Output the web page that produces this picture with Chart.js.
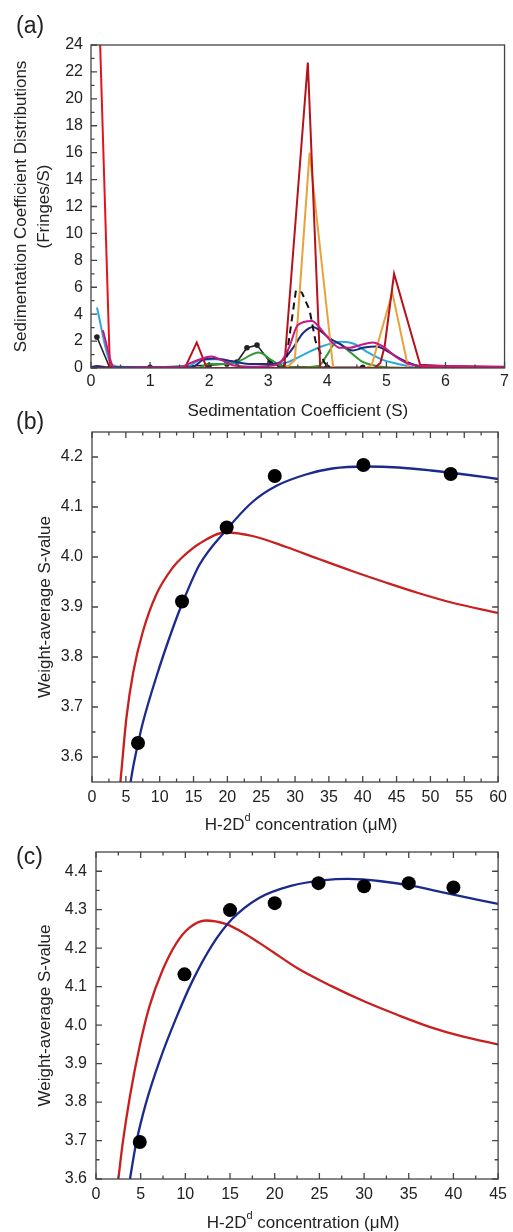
<!DOCTYPE html>
<html>
<head>
<meta charset="utf-8">
<script src="https://cdn.jsdelivr.net/npm/chart.js@4.4.1/dist/chart.umd.min.js"></script>
<style>
  html, body { margin: 0; padding: 0; background: #fff; }
  #wrap { position: relative; width: 513px; height: 1232px; overflow: hidden; }
  canvas { position: absolute; left: 0; }
</style>
</head>
<body>
<div id="wrap">
  <canvas id="chartA" width="513" height="425" style="top:0"></canvas>
  <canvas id="chartB" width="513" height="440" style="top:400px"></canvas>
  <canvas id="chartC" width="513" height="412" style="top:820px"></canvas>
</div>
<script>
Chart.defaults.font.family = "'Liberation Sans', Arial, sans-serif";
Chart.defaults.color = '#222';

// ---- panel (a): sedimentation coefficient distributions ----
const sTicksA = [0, 1, 2, 3, 4, 5, 6, 7];
const fTicksA = [0, 2, 4, 6, 8, 10, 12, 14, 16, 18, 20, 22, 24];

const redS = [0.1, 0.32, 1.0, 3.0, 7.0];
const redF = [32, 0, 0, 0, 0];

const crimsonS = [0, 1.5, 1.6, 1.79, 1.96, 3.27, 3.67, 3.88, 4.8, 4.9, 4.97, 5.13, 5.57, 6.0, 7.0];
const crimsonF = [0, 0, 0.1, 1.9, 0, 0, 22.7, 0, 0, 0.4, 1.6, 7.0, 0.25, 0.15, 0.1];

const orangeS = [0, 3.3, 3.45, 3.7, 4.1, 4.65, 4.75, 5.1, 5.37, 5.6, 7.0];
const orangeF = [0, 0, 0.6, 16.0, 0, 0, 0.2, 5.6, 0, 0, 0];

const dashS = [0.4, 3.25, 3.3, 3.38, 3.47, 3.57, 3.7, 3.8, 3.95, 4.05, 4.7];
const dashF = [0, 0, 0.5, 3.0, 5.8, 5.6, 4.3, 2.0, 0.4, 0, 0];

const blackS = [0.1, 0.32, 1.0, 2.0, 2.3, 2.47, 2.64, 2.81, 3.03, 3.2, 4.0, 4.6];
const blackF = [2.3, 0, 0.05, 0.2, 0.3, 0.45, 1.5, 1.7, 0.45, 0.1, 0.05, 0.05];

const navyS = [0, 0.1, 0.3, 1.7, 1.9, 2.1, 2.4, 2.7, 3.1, 3.25, 3.42, 3.59, 3.76, 3.87, 4.04, 4.21, 4.43, 4.6, 4.83, 5.0, 5.23, 5.4, 5.6, 6.0];
const navyF = [0.05, 0.15, 0.05, 0.05, 0.6, 0.7, 0.5, 0.3, 0.3, 0.6, 1.5, 2.6, 3.05, 2.8, 2.2, 1.8, 1.3, 1.5, 1.6, 1.3, 0.7, 0.35, 0.1, 0.05];

const cyanS = [0.1, 0.34, 0.5, 1.6, 1.85, 2.1, 2.4, 2.7, 3.0, 3.3, 3.6, 3.9, 4.25, 4.45, 4.67, 4.94, 5.2, 5.4, 5.6];
const cyanF = [4.5, 0.3, 0.1, 0.05, 0.6, 0.65, 0.45, 0.3, 0.3, 0.4, 1.0, 1.6, 1.95, 1.8, 1.2, 0.6, 0.3, 0.1, 0];

const greenS = [0, 1.8, 2.0, 2.3, 2.5, 2.84, 3.05, 3.2, 3.5, 3.85, 4.0, 4.15, 4.38, 4.6, 4.77, 5.0, 5.5];
const greenF = [0, 0, 0.3, 0.3, 0.5, 1.15, 0.6, 0.2, 0.05, 0.15, 1.0, 1.9, 1.2, 0.45, 0.2, 0.05, 0];

const magentaS = [0.2, 0.4, 1.0, 1.5, 1.7, 2.04, 2.2, 2.4, 2.7, 3.0, 3.2, 3.35, 3.5, 3.74, 3.87, 4.04, 4.21, 4.38, 4.55, 4.77, 4.94, 5.17, 5.35, 5.6, 6.0, 6.5, 7.0];
const magentaF = [2.8, 0, 0.05, 0.05, 0.4, 0.85, 0.6, 0.2, 0.1, 0.15, 0.4, 1.5, 3.2, 3.5, 3.0, 2.1, 1.5, 1.5, 1.7, 1.9, 1.6, 0.8, 0.35, 0.15, 0.15, 0.1, 0.05];

// ---- panel (b) ----
const concTicksB = [0, 5, 10, 15, 20, 25, 30, 35, 40, 45, 50, 55, 60];
const sTicksB = [3.6, 3.7, 3.8, 3.9, 4.0, 4.1, 4.2];
const dataConcB = [6.8, 13.3, 19.9, 27.0, 40.1, 53.0];
const dataSB = [3.628, 3.911, 4.059, 4.162, 4.184, 4.166];
const blueConcB = [5.7, 6.08, 6.8, 7.5, 9.5, 12, 13.3, 15.9, 19.9, 23.7, 27.2, 31.6, 35.5, 40.4, 45.3, 50.1, 55.1, 60];
const blueSB = [3.55, 3.58, 3.627, 3.668, 3.76, 3.86, 3.906, 3.985, 4.055, 4.11, 4.142, 4.165, 4.177, 4.181, 4.179, 4.173, 4.165, 4.156];
const redConcB = [4.2, 4.4, 5.1, 6.1, 7.5, 9.5, 12, 13.3, 15.9, 19.8, 23.7, 28.7, 33.5, 38.4, 43.4, 48.2, 53.1, 60];
const redSB = [3.55, 3.58, 3.68, 3.77, 3.85, 3.925, 3.98, 3.999, 4.027, 4.049, 4.042, 4.02, 3.996, 3.972, 3.949, 3.928, 3.909, 3.888];

// ---- panel (c) ----
const concTicksC = [0, 5, 10, 15, 20, 25, 30, 35, 40, 45];
const sTicksC = [3.6, 3.7, 3.8, 3.9, 4.0, 4.1, 4.2, 4.3, 4.4];
const dataConcC = [4.9, 9.9, 15.0, 20.0, 24.9, 30.0, 35.0, 40.0];
const dataSC = [3.696, 4.132, 4.299, 4.317, 4.369, 4.361, 4.369, 4.358];
const blueConcC = [3.8, 4.5, 5.6, 7.1, 9.0, 10.8, 13.0, 15.2, 18.2, 21.8, 25.6, 28.2, 31.9, 35.6, 39.2, 42.9, 45];
const blueSC = [3.6, 3.694, 3.798, 3.906, 4.02, 4.115, 4.208, 4.275, 4.33, 4.362, 4.377, 4.38, 4.374, 4.361, 4.343, 4.325, 4.315];
const redConcC = [2.5, 3.0, 3.8, 4.9, 6.0, 7.4, 9.0, 10.4, 12.3, 14.5, 16.7, 19.3, 22.6, 26.3, 30, 33.7, 37.4, 41.1, 45];
const redSC = [3.6, 3.695, 3.815, 3.947, 4.05, 4.14, 4.213, 4.252, 4.272, 4.263, 4.237, 4.198, 4.147, 4.102, 4.062, 4.027, 3.995, 3.97, 3.95];

const xy = (xs, ys) => xs.map((x, i) => ({ x, y: ys[i] }));

// inward tick marks + box frame round the plot area
const frameTicks = {
  id: 'frameTicks',
  afterDatasetsDraw(chart, args, opts) {
    const { ctx, chartArea: a } = chart;
    const { x, y } = chart.scales;
    ctx.save();
    ctx.strokeStyle = '#444';
    ctx.lineWidth = 1.3;
    ctx.strokeRect(a.left, a.top, a.right - a.left, a.bottom - a.top);
    ctx.beginPath();
    const marks = (scale) => {
      const major = scale.ticks.map((t) => t.value);
      const minor = [];
      for (let i = 0; i < major.length - 1; i++) minor.push((major[i] + major[i + 1]) / 2);
      return { major, minor };
    };
    const xm = marks(x);
    const ym = marks(y);
    const hx = (v, len) => {
      const px = x.getPixelForValue(v);
      ctx.moveTo(px, a.bottom); ctx.lineTo(px, a.bottom - len);
      if (opts.mirror) { ctx.moveTo(px, a.top); ctx.lineTo(px, a.top + len); }
    };
    const vy = (v, len) => {
      const py = y.getPixelForValue(v);
      ctx.moveTo(a.left, py); ctx.lineTo(a.left + len, py);
      if (opts.mirror) { ctx.moveTo(a.right, py); ctx.lineTo(a.right - len, py); }
    };
    xm.major.forEach((v) => hx(v, 6));
    xm.minor.forEach((v) => hx(v, 3.5));
    ym.major.forEach((v) => vy(v, 6));
    ym.minor.forEach((v) => vy(v, 3.5));
    ctx.stroke();
    ctx.restore();
  },
};

// panel letter and an x title with a superscript
const panelText = {
  id: 'panelText',
  afterDraw(chart, args, opts) {
    const { ctx, chartArea: a } = chart;
    ctx.save();
    ctx.fillStyle = '#222';
    ctx.textBaseline = 'middle';
    ctx.textAlign = 'left';
    ctx.font = "23px 'Liberation Sans', Arial, sans-serif";
    ctx.fillText(opts.letter, opts.letterX, opts.letterY);
    if (opts.xTitle) {
      const big = "17px 'Liberation Sans', Arial, sans-serif";
      const small = "11px 'Liberation Sans', Arial, sans-serif";
      const parts = opts.xTitle;
      let total = 0;
      parts.forEach((p) => { ctx.font = p.sup ? small : big; total += ctx.measureText(p.text).width; });
      let px = (a.left + a.right) / 2 + (opts.titleDx || 0) - total / 2;
      const py = a.bottom + opts.titleDy;
      parts.forEach((p) => {
        ctx.font = p.sup ? small : big;
        ctx.fillText(p.text, px, p.sup ? py - 7 : py);
        px += ctx.measureText(p.text).width;
      });
    }
    ctx.restore();
  },
};

const curve = (data, color, extra) => Object.assign({
  data, showLine: true, borderColor: color, backgroundColor: color,
  borderWidth: 2, pointRadius: 0, fill: false,
}, extra || {});

const concTitle = [{ text: 'H-2D' }, { text: 'd', sup: true }, { text: ' concentration (\u03bcM)' }];

// panel (a)
new Chart(document.getElementById('chartA'), {
  type: 'scatter',
  data: {
    datasets: [
      curve(xy(magentaS, magentaF), '#c8177f', { order: 0, cubicInterpolationMode: 'monotone' }),
      curve(xy(crimsonS, crimsonF), '#b5121b', { order: 1 }),
      curve(xy(redS, redF), '#e3131b', { order: 2 }),
      curve(xy(orangeS, orangeF), '#e9a13b', { order: 3 }),
      curve(xy(dashS, dashF), '#111', { order: 4, borderDash: [7, 5] }),
      curve(xy(navyS, navyF), '#1c2a84', { order: 5, cubicInterpolationMode: 'monotone' }),
      curve(xy(cyanS, cyanF), '#2aa7e0', { order: 6, cubicInterpolationMode: 'monotone' }),
      curve(xy(greenS, greenF), '#2c9a2c', { order: 7, cubicInterpolationMode: 'monotone' }),
      curve(xy(blackS, blackF), '#222', { order: 8, pointRadius: 2, borderWidth: 1.6 }),
    ],
  },
  options: {
    responsive: false,
    animation: false,
    layout: { padding: { top: 45, right: 8, left: 0, bottom: 0 } },
    plugins: {
      legend: { display: false },
      tooltip: { enabled: false },
      frameTicks: { mirror: false },
      panelText: { letter: '(a)', letterX: 16, letterY: 27 },
    },
    scales: {
      x: {
        type: 'linear', min: 0, max: 7,
        grid: { display: false, drawTicks: false }, border: { display: false },
        afterBuildTicks: (s) => { s.ticks = sTicksA.map((v) => ({ value: v })); },
        afterFit: (s) => { s.height = 57; },
        ticks: { padding: 4, font: { size: 16 }, color: '#222', maxRotation: 0, autoSkip: false },
        title: { display: true, text: 'Sedimentation Coefficient (S)', font: { size: 17 }, color: '#222', padding: { top: 0, bottom: 3 } },
      },
      y: {
        type: 'linear', min: 0, max: 24,
        grid: { display: false, drawTicks: false }, border: { display: false },
        afterBuildTicks: (s) => { s.ticks = fTicksA.map((v) => ({ value: v })); },
        afterFit: (s) => { s.width = 91; },
        ticks: { padding: 8, font: { size: 16 }, color: '#222', autoSkip: false },
        title: {
          display: true,
          text: ['Sedimentation Coefficient Distributions', '(Fringes/S)'],
          font: { size: 17, lineHeight: 1.35 }, color: '#222', padding: { top: 10, bottom: 0 },
        },
      },
    },
  },
  plugins: [frameTicks, panelText],
});

const fitChart = (id, cfg) => new Chart(document.getElementById(id), {
  type: 'scatter',
  data: {
    datasets: [
      { data: cfg.points, pointRadius: 7, pointBackgroundColor: '#000', pointBorderWidth: 0, showLine: false, order: 0 },
      curve(cfg.blue, '#1b2a8c', { order: 1, borderWidth: 2.3, cubicInterpolationMode: 'monotone' }),
      curve(cfg.red, '#c8201f', { order: 2, borderWidth: 2.3, cubicInterpolationMode: 'monotone' }),
    ],
  },
  options: {
    responsive: false,
    animation: false,
    layout: { padding: { top: 32, right: cfg.right, left: 0, bottom: 0 } },
    plugins: {
      legend: { display: false },
      tooltip: { enabled: false },
      frameTicks: { mirror: true },
      panelText: { letter: cfg.letter, letterX: 16, letterY: cfg.letterY, xTitle: concTitle, titleDy: cfg.titleDy, titleDx: 6 },
    },
    scales: {
      x: {
        type: 'linear', min: cfg.xMin, max: cfg.xMax,
        grid: { display: false, drawTicks: false }, border: { display: false },
        afterBuildTicks: (s) => { s.ticks = cfg.xTicks.map((v) => ({ value: v })); },
        afterFit: (s) => { s.height = cfg.xHeight; },
        ticks: { padding: 6, font: { size: 16 }, color: '#222', maxRotation: 0, autoSkip: false },
      },
      y: {
        type: 'linear', min: cfg.yMin, max: cfg.yMax,
        grid: { display: false, drawTicks: false }, border: { display: false },
        afterBuildTicks: (s) => { s.ticks = cfg.yTicks.map((v) => ({ value: v })); },
        afterFit: (s) => { s.width = cfg.yWidth; },
        ticks: { padding: 9, font: { size: 16 }, color: '#222', autoSkip: false, callback: (v) => Number(v).toFixed(1) },
        title: { display: true, text: 'Weight-average S-value', font: { size: 17 }, color: '#222', padding: { top: 35, bottom: 0 } },
      },
    },
  },
  plugins: [frameTicks, panelText],
});

// panel (b)
fitChart('chartB', {
  letter: '(b)', letterY: 23, titleDy: 43,
  points: xy(dataConcB, dataSB), blue: xy(blueConcB, blueSB), red: xy(redConcB, redSB),
  xMin: 0, xMax: 60, yMin: 3.55, yMax: 4.25, xTicks: concTicksB, yTicks: sTicksB,
  right: 13, xHeight: 58, yWidth: 92,
});

// panel (c)
fitChart('chartC', {
  letter: '(c)', letterY: 38, titleDy: 44,
  points: xy(dataConcC, dataSC), blue: xy(blueConcC, blueSC), red: xy(redConcC, redSC),
  xMin: 0, xMax: 45, yMin: 3.6, yMax: 4.45, xTicks: concTicksC, yTicks: sTicksC,
  right: 11, xHeight: 53, yWidth: 96,
});
</script>
</body>
</html>
